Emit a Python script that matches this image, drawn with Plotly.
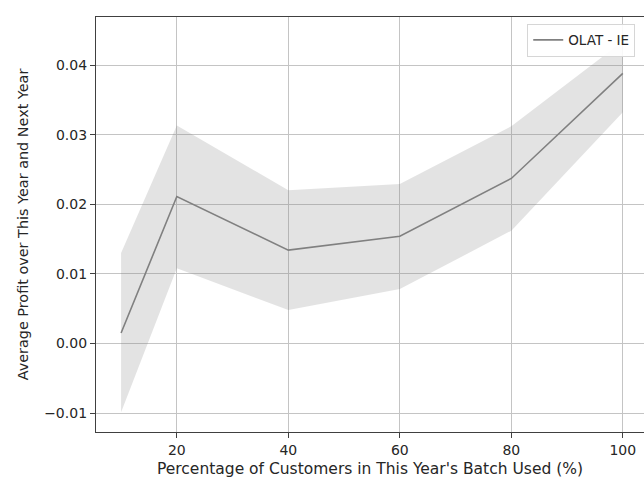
import plotly.graph_objects as go

x_pct = [10, 20, 40, 60, 80, 100]
mean_profit = [0.0015, 0.0211, 0.0134, 0.0154, 0.0237, 0.0388]
upper_band = [0.0130, 0.0313, 0.0220, 0.0229, 0.0312, 0.0434]
lower_band = [-0.0099, 0.0108, 0.0048, 0.0078, 0.0162, 0.0332]
series_name = "OLAT - IE"

FONT = "DejaVu Sans"
TICK_SIZE = 14
XTITLE_SIZE = 15.5
YTITLE_SIZE = 14.4

fig = go.Figure()
fig.add_trace(go.Scatter(x=x_pct, y=upper_band, mode="lines", line=dict(width=0),
                         showlegend=False, hoverinfo="skip"))
fig.add_trace(go.Scatter(x=x_pct, y=lower_band, mode="lines", line=dict(width=0),
                         fill="tonexty", fillcolor="rgba(128,128,128,0.22)",
                         showlegend=False, hoverinfo="skip"))
fig.add_trace(go.Scatter(x=x_pct, y=mean_profit, mode="lines", name=series_name,
                         line=dict(color="#808080", width=1.6)))

fig.update_layout(
    width=644, height=484,
    margin=dict(l=96, r=0, t=17, b=52),
    paper_bgcolor="white", plot_bgcolor="white",
    font=dict(family=FONT, size=TICK_SIZE, color="#262626"),
    showlegend=True,
    legend=dict(x=0.984, y=0.984, xanchor="right", yanchor="top",
                bgcolor="rgba(255,255,255,0.9)", bordercolor="#d6d6d6", borderwidth=1,
                font=dict(family=FONT, size=13.5, color="#262626"),
                tracegroupgap=0, itemwidth=30),
)
fig.update_xaxes(
    range=[5.5, 103.8], tickvals=[20, 40, 60, 80, 100],
    showgrid=True, gridcolor="#c4c4c4", gridwidth=1,
    showline=True, linecolor="#404040", linewidth=1.3, mirror=True,
    ticks="outside", ticklen=5, tickcolor="#404040",
    tickfont=dict(size=TICK_SIZE),
    zeroline=False,
    title=dict(text="Percentage of Customers in This Year's Batch Used (%)",
               font=dict(family=FONT, size=XTITLE_SIZE), standoff=6),
)
fig.update_yaxes(
    range=[-0.01273, 0.0469], tickvals=[-0.01, 0.0, 0.01, 0.02, 0.03, 0.04],
    ticktext=["\u22120.01", "0.00", "0.01", "0.02", "0.03", "0.04"],
    showgrid=True, gridcolor="#c4c4c4", gridwidth=1,
    showline=True, linecolor="#404040", linewidth=1.3, mirror=False,
    ticks="outside", ticklen=5, tickcolor="#404040",
    tickfont=dict(size=TICK_SIZE),
    zeroline=False,
    title=dict(text="Average Profit over This Year and Next Year",
               font=dict(family=FONT, size=YTITLE_SIZE), standoff=12),
)

fig.write_html("out.html")
